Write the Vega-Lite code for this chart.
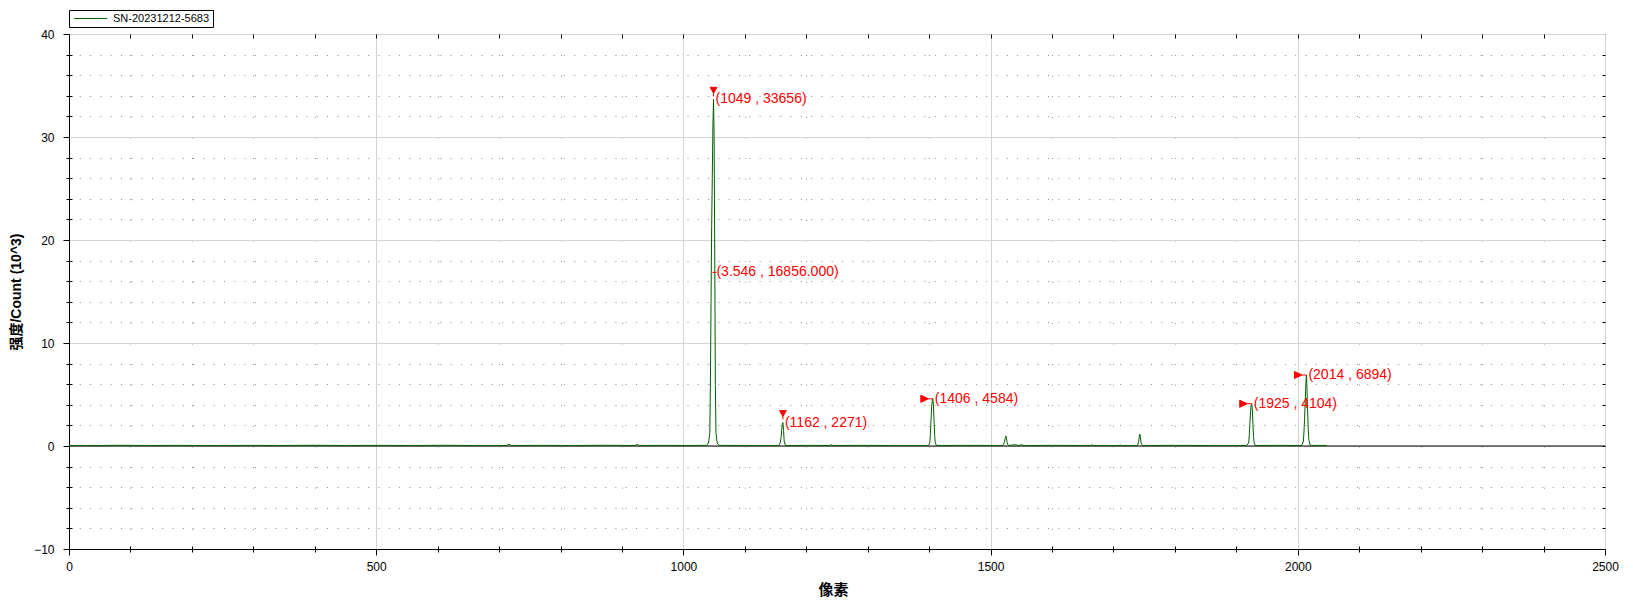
{
  "$schema": "https://vega.github.io/schema/vega-lite/v6.json",
  "width": 1536,
  "height": 515,
  "autosize": {"type": "none"},
  "padding": {"left": 69, "top": 34, "right": 28, "bottom": 60},
  "background": "white",
  "config": {
    "view": {"stroke": "black", "strokeWidth": 1},
    "axis": {
      "labelFont": "Liberation Sans",
      "labelFontSize": 12,
      "labelColor": "black",
      "tickColor": "black",
      "domainColor": "black",
      "titleFont": "Liberation Sans, Noto Sans CJK SC",
      "titleFontWeight": "bold",
      "titleFontSize": 15,
      "titleColor": "black"
    }
  },
  "datasets": {
    "spectrum": [
      {"pixel": 0, "value": 0.05}, {"pixel": 40, "value": 0.04}, {"pixel": 80, "value": 0.07}, {"pixel": 130, "value": 0.05},
      {"pixel": 180, "value": 0.06}, {"pixel": 230, "value": 0.04}, {"pixel": 290, "value": 0.06}, {"pixel": 340, "value": 0.05},
      {"pixel": 400, "value": 0.07}, {"pixel": 450, "value": 0.05}, {"pixel": 500, "value": 0.06}, {"pixel": 560, "value": 0.05},
      {"pixel": 610, "value": 0.07}, {"pixel": 660, "value": 0.05}, {"pixel": 712, "value": 0.05}, {"pixel": 716, "value": 0.18},
      {"pixel": 720, "value": 0.05}, {"pixel": 770, "value": 0.06}, {"pixel": 820, "value": 0.05}, {"pixel": 870, "value": 0.07},
      {"pixel": 921, "value": 0.05}, {"pixel": 925, "value": 0.14}, {"pixel": 929, "value": 0.05}, {"pixel": 970, "value": 0.06},
      {"pixel": 1010, "value": 0.05}, {"pixel": 1038, "value": 0.06}, {"pixel": 1041, "value": 0.3}, {"pixel": 1043, "value": 1.3},
      {"pixel": 1044, "value": 6.4}, {"pixel": 1045, "value": 14.0}, {"pixel": 1046, "value": 21.3}, {"pixel": 1047, "value": 26.0},
      {"pixel": 1048, "value": 30.9}, {"pixel": 1049, "value": 33.656}, {"pixel": 1050, "value": 30.0}, {"pixel": 1051, "value": 19.0},
      {"pixel": 1052, "value": 6.0}, {"pixel": 1053, "value": 1.3}, {"pixel": 1055, "value": 0.3}, {"pixel": 1058, "value": 0.06},
      {"pixel": 1100, "value": 0.05}, {"pixel": 1155, "value": 0.05}, {"pixel": 1157, "value": 0.2}, {"pixel": 1159, "value": 0.8},
      {"pixel": 1160, "value": 1.6}, {"pixel": 1161, "value": 2.1}, {"pixel": 1162, "value": 2.271}, {"pixel": 1163, "value": 1.5},
      {"pixel": 1164, "value": 0.5}, {"pixel": 1166, "value": 0.05}, {"pixel": 1210, "value": 0.06}, {"pixel": 1238, "value": 0.05},
      {"pixel": 1240, "value": 0.14}, {"pixel": 1242, "value": 0.05}, {"pixel": 1290, "value": 0.06}, {"pixel": 1340, "value": 0.05},
      {"pixel": 1399, "value": 0.05}, {"pixel": 1401, "value": 0.3}, {"pixel": 1402, "value": 1.1}, {"pixel": 1403, "value": 2.5},
      {"pixel": 1404, "value": 3.8}, {"pixel": 1405, "value": 4.4}, {"pixel": 1406, "value": 4.584}, {"pixel": 1407, "value": 3.9},
      {"pixel": 1408, "value": 2.4}, {"pixel": 1409, "value": 1.0}, {"pixel": 1410, "value": 0.3}, {"pixel": 1412, "value": 0.05},
      {"pixel": 1460, "value": 0.06}, {"pixel": 1520, "value": 0.05}, {"pixel": 1522, "value": 0.3}, {"pixel": 1524, "value": 0.8},
      {"pixel": 1525, "value": 0.97}, {"pixel": 1526, "value": 0.7}, {"pixel": 1527, "value": 0.3}, {"pixel": 1529, "value": 0.05},
      {"pixel": 1540, "value": 0.12}, {"pixel": 1545, "value": 0.05}, {"pixel": 1550, "value": 0.12}, {"pixel": 1555, "value": 0.05},
      {"pixel": 1600, "value": 0.06}, {"pixel": 1663, "value": 0.05}, {"pixel": 1665, "value": 0.12}, {"pixel": 1667, "value": 0.05},
      {"pixel": 1709, "value": 0.05}, {"pixel": 1711, "value": 0.1}, {"pixel": 1713, "value": 0.05}, {"pixel": 1739, "value": 0.05},
      {"pixel": 1741, "value": 0.4}, {"pixel": 1742, "value": 0.9}, {"pixel": 1743, "value": 1.15}, {"pixel": 1744, "value": 0.8},
      {"pixel": 1745, "value": 0.3}, {"pixel": 1747, "value": 0.05}, {"pixel": 1800, "value": 0.06}, {"pixel": 1860, "value": 0.05},
      {"pixel": 1917, "value": 0.05}, {"pixel": 1920, "value": 0.3}, {"pixel": 1921, "value": 1.0}, {"pixel": 1922, "value": 2.2},
      {"pixel": 1923, "value": 3.2}, {"pixel": 1924, "value": 3.9}, {"pixel": 1925, "value": 4.104}, {"pixel": 1926, "value": 3.6},
      {"pixel": 1927, "value": 2.1}, {"pixel": 1928, "value": 0.9}, {"pixel": 1929, "value": 0.3}, {"pixel": 1931, "value": 0.05},
      {"pixel": 1970, "value": 0.06}, {"pixel": 2006, "value": 0.05}, {"pixel": 2009, "value": 0.4}, {"pixel": 2010, "value": 1.3},
      {"pixel": 2011, "value": 2.6}, {"pixel": 2012, "value": 4.2}, {"pixel": 2013, "value": 5.9}, {"pixel": 2014, "value": 6.894},
      {"pixel": 2015, "value": 5.6}, {"pixel": 2016, "value": 3.4}, {"pixel": 2017, "value": 1.6}, {"pixel": 2018, "value": 0.6},
      {"pixel": 2020, "value": 0.1}, {"pixel": 2022, "value": 0.05}, {"pixel": 2035, "value": 0.06}, {"pixel": 2047, "value": 0.05}
    ],
    "peaks": [
      {"pixel": 1049, "value": 33.656, "label": "(1049 , 33656)", "kind": "down"},
      {"pixel": 1162, "value": 2.271, "label": "(1162 , 2271)", "kind": "down"},
      {"pixel": 1406, "value": 4.584, "label": "(1406 , 4584)", "kind": "flag"},
      {"pixel": 1925, "value": 4.104, "label": "(1925 , 4104)", "kind": "flag"},
      {"pixel": 2014, "value": 6.894, "label": "(2014 , 6894)", "kind": "flag"},
      {"pixel": 1050.5, "value": 16.856, "label": "(3.546 , 16856.000)", "kind": "half"}
    ],
    "zero": [{"value": 0}]
  },
  "layer": [
    {
      "data": {"name": "zero"},
      "mark": {"type": "rule", "color": "black", "strokeWidth": 1},
      "encoding": {
        "y": {"field": "value", "type": "quantitative", "scale": {"domain": [-10, 40], "nice": false, "zero": false}, "axis": null}
      }
    },
    {
      "data": {"name": "spectrum"},
      "mark": {"type": "line", "strokeWidth": 1, "interpolate": "linear"},
      "encoding": {
        "x": {
          "field": "pixel", "type": "quantitative",
          "scale": {"domain": [0, 2500], "nice": false, "zero": false},
          "axis": {
            "orient": "bottom", "values": [0, 500, 1000, 1500, 2000, 2500], "format": "d",
            "grid": true, "gridColor": "#d3d3d3", "gridWidth": 1,
            "tickSize": 6, "labelPadding": 6, "labelFlush": false,
            "title": "像素", "titleX": 764, "titleY": 40, "titleBaseline": "middle"
          }
        },
        "y": {
          "field": "value", "type": "quantitative",
          "scale": {"domain": [-10, 40], "nice": false, "zero": false},
          "axis": {
            "orient": "left", "values": [-10, 0, 10, 20, 30, 40], "format": "d",
            "grid": true, "gridColor": "#d3d3d3", "gridWidth": 1,
            "tickSize": 6, "labelPadding": 9, "labelFlush": false,
            "title": "强度/Count (10^3)", "titleFontSize": 14, "titleAngle": 270, "titleX": -53, "titleY": 257.5,
            "titleBaseline": "middle", "titleAlign": "center"
          }
        },
        "color": {
          "datum": "SN-20231212-5683",
          "scale": {"range": ["#005f00"]},
          "legend": {
            "orient": "none", "legendX": 0, "legendY": -24, "title": null,
            "symbolType": "M-1,0L9,0", "symbolSize": 43.6, "symbolStrokeWidth": 1,
            "strokeColor": "black", "fillColor": "white", "padding": 3,
            "labelFont": "Liberation Sans", "labelFontSize": 11, "labelColor": "black", "labelOffset": 30,
            "labelExpr": "datum.label + '\u00a0\u00a0\u00a0\u00a0'"
          }
        }
      }
    },
    {
      "data": {"name": "peaks"},
      "mark": {"type": "point", "filled": true, "fill": "red", "stroke": "red", "strokeWidth": 1, "opacity": 1, "size": 144},
      "encoding": {
        "x": {
          "field": "pixel", "type": "quantitative",
          "scale": {"domain": [0, 2500], "nice": false, "zero": false},
          "axis": {
            "orient": "bottom", "values": [100, 200, 300, 400, 600, 700, 800, 900, 1100, 1200, 1300, 1400, 1600, 1700, 1800, 1900, 2100, 2200, 2300, 2400],
            "grid": true, "gridColor": "#8c8c8c", "gridDash": [1, 19.6], "gridWidth": 1,
            "ticks": false, "labels": false, "domain": false, "title": null
          }
        },
        "y": {
          "field": "value", "type": "quantitative",
          "scale": {"domain": [-10, 40], "nice": false, "zero": false},
          "axis": {
            "orient": "left", "values": [-8, -6, -4, -2, 2, 4, 6, 8, 12, 14, 16, 18, 22, 24, 26, 28, 32, 34, 36, 38],
            "grid": true, "gridColor": "#8c8c8c", "gridDash": [1, 9.3], "gridWidth": 1,
            "ticks": false, "labels": false, "domain": false, "title": null
          }
        },
        "shape": {
          "field": "kind", "type": "nominal",
          "scale": {
            "domain": ["down", "flag", "half"],
            "range": ["M-0.56,-2L0.56,-2L0,-1Z M0,-1L0,-0.5", "M-2,-0.6L-0.75,0L-2,0.6Z M-0.75,0L0,0", "M-0.35,0L0.35,0"]
          },
          "legend": null
        }
      }
    },
    {
      "data": {"name": "peaks"},
      "transform": [{"filter": "datum.kind !== 'half'"}],
      "mark": {"type": "text", "align": "left", "baseline": "middle", "dx": 2, "color": "red", "font": "Liberation Sans", "fontSize": 14},
      "encoding": {
        "x": {
          "field": "pixel", "type": "quantitative",
          "scale": {"domain": [0, 2500], "nice": false, "zero": false},
          "axis": {
            "orient": "bottom", "values": [100, 200, 300, 400, 600, 700, 800, 900, 1100, 1200, 1300, 1400, 1600, 1700, 1800, 1900, 2100, 2200, 2300, 2400],
            "offset": -3, "tickSize": 6, "ticks": true, "grid": false, "labels": false, "domain": false, "title": null
          }
        },
        "y": {
          "field": "value", "type": "quantitative",
          "scale": {"domain": [-10, 40], "nice": false, "zero": false},
          "axis": {
            "orient": "left", "values": [-8, -6, -4, -2, 2, 4, 6, 8, 12, 14, 16, 18, 22, 24, 26, 28, 32, 34, 36, 38],
            "offset": -3, "tickSize": 6, "ticks": true, "grid": false, "labels": false, "domain": false, "title": null
          }
        },
        "text": {"field": "label"}
      }
    },
    {
      "data": {"name": "peaks"},
      "transform": [{"filter": "datum.kind === 'half'"}],
      "mark": {"type": "text", "align": "left", "baseline": "middle", "dx": 2, "color": "red", "font": "Liberation Sans", "fontSize": 14},
      "encoding": {
        "x": {
          "field": "pixel", "type": "quantitative",
          "scale": {"domain": [0, 2500], "nice": false, "zero": false},
          "axis": {
            "orient": "top", "values": [100, 200, 300, 400, 500, 600, 700, 800, 900, 1000, 1100, 1200, 1300, 1400, 1500, 1600, 1700, 1800, 1900, 2000, 2100, 2200, 2300, 2400],
            "tickSize": -4, "ticks": true, "grid": false, "labels": false, "domain": false, "title": null
          }
        },
        "y": {
          "field": "value", "type": "quantitative",
          "scale": {"domain": [-10, 40], "nice": false, "zero": false},
          "axis": {
            "orient": "right", "values": [-8, -6, -4, -2, 0, 2, 4, 6, 8, 10, 12, 14, 16, 18, 20, 22, 24, 26, 28, 30, 32, 34, 36, 38],
            "tickSize": -3, "ticks": true, "grid": false, "labels": false, "domain": false, "title": null
          }
        },
        "text": {"field": "label"}
      }
    }
  ],
  "resolve": {"axis": {"x": "independent", "y": "independent"}}
}
